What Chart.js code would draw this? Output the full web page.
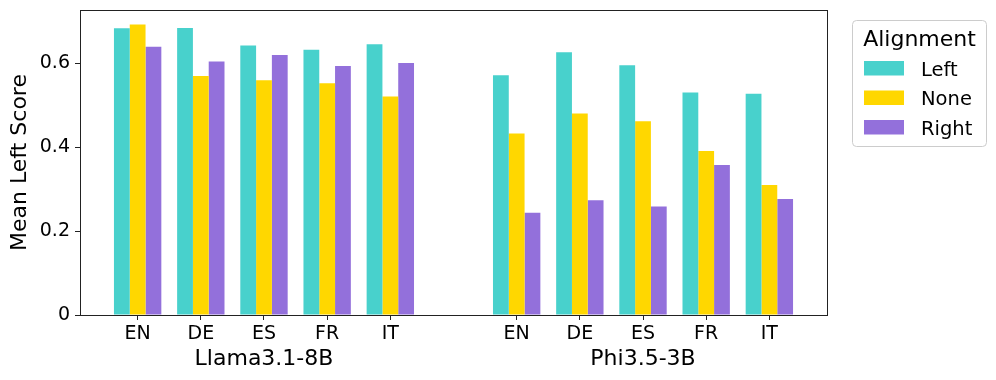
<!DOCTYPE html>
<html><head><meta charset="utf-8">
<script src="https://cdn.jsdelivr.net/npm/chart.js@4"></script>
<style>html,body{margin:0;padding:0;background:#fff}#wrap{width:996px;height:380px}</style>
</head><body><div id="wrap"><canvas id="c" width="996" height="380"></canvas></div>
<script>
const models = ['Llama3.1-8B', 'Phi3.5-3B'];
const languages = ['EN', 'DE', 'ES', 'FR', 'IT'];
const seriesNames = ['Left', 'None', 'Right'];
const leftScores  = [0.684, 0.685, 0.643, 0.633, 0.646, 0.572, 0.627, 0.596, 0.531, 0.528];
const noneScores  = [0.693, 0.570, 0.560, 0.553, 0.521, 0.433, 0.481, 0.462, 0.391, 0.310];
const rightScores = [0.640, 0.605, 0.620, 0.594, 0.601, 0.244, 0.274, 0.259, 0.358, 0.277];
const yTicks = [0, 0.2, 0.4, 0.6];
const yTitle = 'Mean Left Score';
const legendTitle = 'Alignment';
const colors = ['#48D1CC', '#FFD700', '#9370DB'];

const FONT = 'DejaVu Sans';
// x positions: languages within each model, one empty slot between models
const xPos = models.flatMap((m, g) => languages.map((l, i) => g * (languages.length + 1) + i));
const tickLabels = models.flatMap(() => languages);
const halfGroup = 0.375;
const lo = Math.min(...xPos) - halfGroup, hi = Math.max(...xPos) + halfGroup;
const xMin = lo - 0.05 * (hi - lo), xMax = hi + 0.05 * (hi - lo);
const allVals = [...leftScores, ...noneScores, ...rightScores];
const yMax = Math.max(...allVals) * 1.05;

const seriesData = [leftScores, noneScores, rightScores];
const datasets = seriesNames.map((name, s) => ({
  label: name,
  data: seriesData[s].map((v, k) => ({ x: xPos[k], y: v })),
  backgroundColor: colors[s],
  borderWidth: 0,
  categoryPercentage: 0.75,
  barPercentage: 1.0
}));

const decor = {
  id: 'decor',
  afterDraw(chart) {
    const { ctx, chartArea: a, scales: { x } } = chart;
    ctx.save();
    // frame
    ctx.strokeStyle = '#222';
    ctx.lineWidth = 1;
    ctx.strokeRect(Math.floor(a.left) + 0.5, Math.floor(a.top) + 0.5,
      Math.round(a.right - a.left), Math.round(a.bottom - a.top));
    // group labels
    ctx.fillStyle = '#000';
    ctx.font = '22px "' + FONT + '"';
    ctx.textAlign = 'center';
    ctx.textBaseline = 'alphabetic';
    models.forEach((m, g) => {
      const ps = xPos.slice(g * languages.length, (g + 1) * languages.length);
      const c = ps.reduce((s, v) => s + v, 0) / ps.length;
      ctx.fillText(m, x.getPixelForValue(c), a.bottom + 50);
    });
    // legend
    const L = a.right + 25.5, T = a.top + 10.5, W = 134, H = 126;
    ctx.beginPath();
    ctx.roundRect(L, T, W, H, 4);
    ctx.fillStyle = 'rgba(255,255,255,0.8)';
    ctx.fill();
    ctx.strokeStyle = '#cccccc';
    ctx.stroke();
    ctx.fillStyle = '#000';
    ctx.font = '22px "' + FONT + '"';
    ctx.textAlign = 'center';
    ctx.fillText(legendTitle, L + W / 2, T + 25);
    ctx.font = '19.5px "' + FONT + '"';
    ctx.textAlign = 'left';
    chart.data.datasets.forEach((ds, i) => {
      const base = T + 55 + i * 29.5;
      ctx.fillStyle = ds.backgroundColor;
      ctx.fillRect(L + 11.5, base - 14.5, 40, 14.5);
      ctx.fillStyle = '#000';
      ctx.fillText(ds.label, L + 68.5, base);
    });
    ctx.restore();
  }
};

new Chart(document.getElementById('c'), {
  type: 'bar',
  data: { datasets },
  options: {
    responsive: false,
    devicePixelRatio: 1,
    animation: false,
    layout: { padding: { top: 10, right: 169, bottom: 0, left: 0 } },
    plugins: { legend: { display: false }, tooltip: { enabled: false } },
    scales: {
      x: {
        type: 'linear', min: xMin, max: xMax, offset: false,
        grid: { display: true, offset: false, drawOnChartArea: false, drawTicks: true, tickLength: 5, color: '#222', lineWidth: 1 },
        border: { display: false },
        afterBuildTicks: s => { s.ticks = xPos.map(v => ({ value: v })); },
        ticks: { autoSkip: false, maxRotation: 0, padding: 3, color: '#000', font: { family: FONT, size: 19 },
          callback: (v, i) => tickLabels[i] },
        afterFit: s => { s.height = 65; s.paddingLeft = 0; s.paddingRight = 0; }
      },
      y: {
        type: 'linear', min: 0, max: yMax,
        afterBuildTicks: s => { s.ticks = yTicks.map(v => ({ value: v })); },
        ticks: { padding: 5, color: '#000', font: { family: FONT, size: 19 },
          callback: v => (v === 0 ? '0' : v.toFixed(1)) },
        grid: { drawOnChartArea: false, drawTicks: true, tickLength: 5, color: '#222', lineWidth: 1 },
        border: { display: false },
        title: { display: true, text: yTitle, color: '#000', font: { family: FONT, size: 22 }, padding: { top: 7, bottom: 0 } },
        afterFit: s => { s.width = 80; s.paddingTop = 0; s.paddingBottom = 0; }
      }
    }
  },
  plugins: [decor]
});
</script>
</body></html>
